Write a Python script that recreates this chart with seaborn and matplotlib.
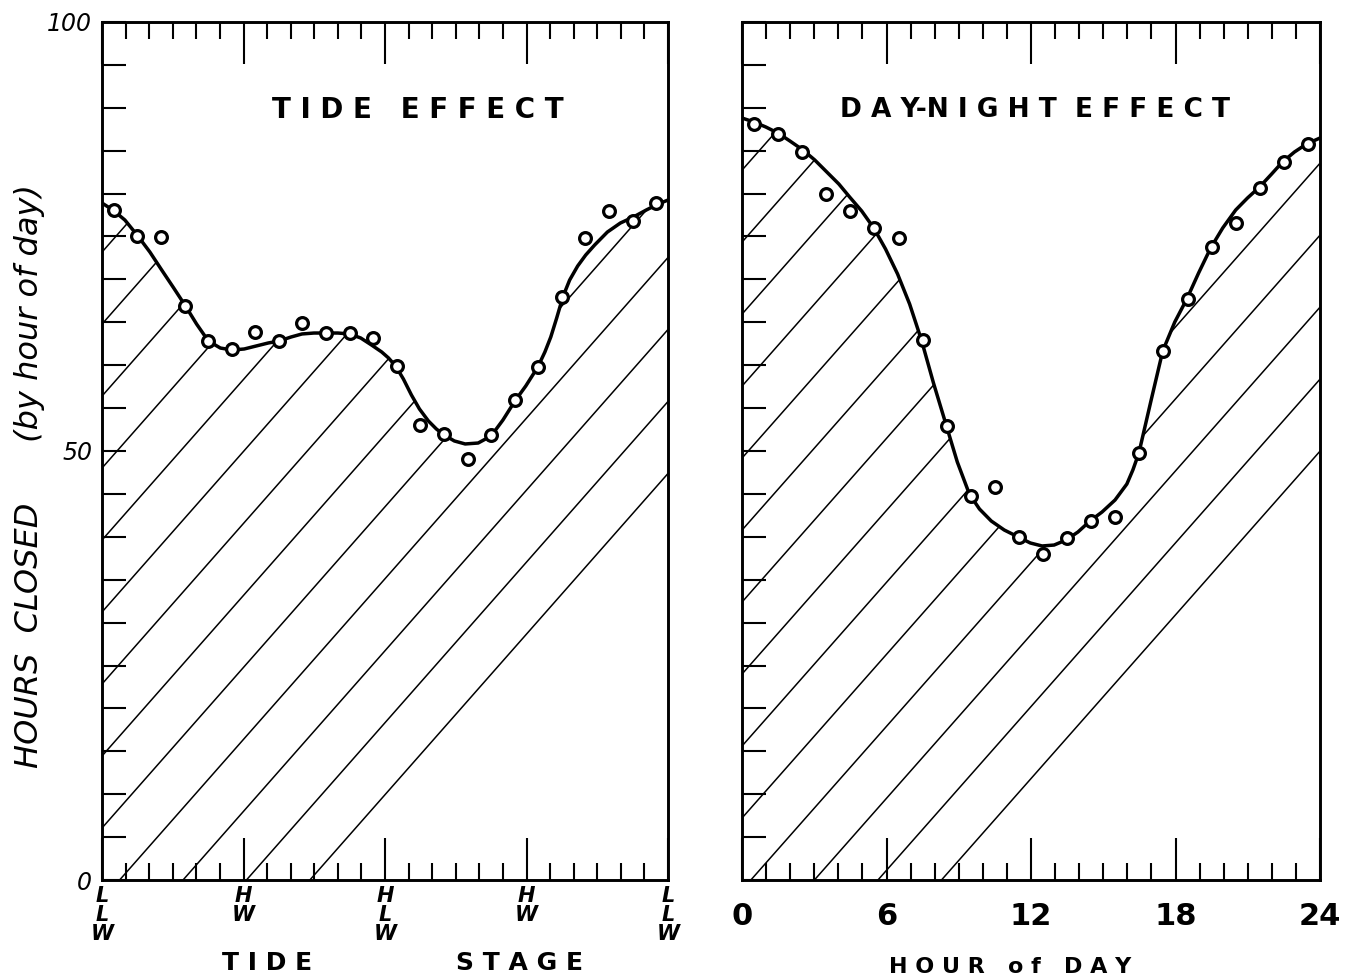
import numpy as np
import pandas as pd
import matplotlib
matplotlib.use("Agg")
import matplotlib.pyplot as plt
import seaborn as sns

# ---------------- data ----------------
# Tide effect: observed points (half steps of the tide stage, 0..24)
tide_stage = [0.5, 1.5, 2.5, 3.5, 4.5, 5.5, 6.5, 7.5, 8.5, 9.5, 10.5, 11.5,
              12.5, 13.5, 14.5, 15.5, 16.5, 17.5, 18.5, 19.5, 20.5, 21.5, 22.5, 23.5]
tide_closed = [78.1, 75.0, 74.9, 66.9, 62.8, 61.9, 63.9, 62.8, 64.9, 63.8, 63.8, 63.2,
               59.9, 53.0, 52.0, 49.1, 51.9, 55.9, 59.8, 67.9, 74.8, 78.0, 76.8, 78.9]
# Tide effect: fitted smooth curve
tide_curve_x = [0.00, 0.46, 0.97, 1.52, 2.03, 2.53, 3.04, 3.54, 4.01, 4.51, 5.02, 5.53,
                6.03, 6.54, 7.05, 7.51, 8.02, 8.48, 8.99, 9.49, 10.00, 10.51, 10.97,
                11.43, 11.86, 12.15, 12.45, 12.78, 13.12, 13.46, 13.84, 14.18, 14.51,
                14.94, 15.40, 15.95, 16.50, 17.00, 17.51, 17.97, 18.48, 18.78, 19.03,
                19.28, 19.54, 19.83, 20.17, 20.51, 20.89, 21.43, 21.98, 22.53, 23.08,
                23.59, 24.00]
tide_curve_y = [78.90, 78.09, 76.92, 75.06, 73.19, 71.10, 69.00, 66.90, 64.80, 62.82, 62.00, 61.77,
                61.89, 62.24, 62.59, 62.82, 63.29, 63.64, 63.75, 63.75, 63.75, 63.64, 63.17,
                62.35, 61.54, 60.84, 59.91, 58.39, 56.53, 54.90, 53.50, 52.56, 51.86,
                51.17, 50.82, 50.93, 51.75, 53.61, 55.83, 57.58, 59.79, 61.54, 63.29,
                65.50, 67.95, 69.93, 71.56, 72.84, 74.01, 75.52, 76.57, 77.27, 78.09,
                78.79, 79.25]
tide_tick_pos = [0, 6, 12, 18, 24]
tide_tick_labels = ["L\nL\nW", "H\nW", "H\nL\nW", "H\nW", "L\nL\nW"]

# Day-night effect: observed points (hour of day)
hour = [0.5, 1.5, 2.5, 3.5, 4.5, 5.5, 6.5, 7.5, 8.5, 9.5, 10.5, 11.5,
        12.5, 13.5, 14.5, 15.5, 16.5, 17.5, 18.5, 19.5, 20.5, 21.5, 22.5, 23.5]
hour_closed = [88.1, 86.9, 84.8, 80.0, 78.0, 76.0, 74.8, 62.9, 52.9, 44.8, 45.8, 40.0,
               38.0, 39.9, 41.8, 42.3, 49.8, 61.7, 67.7, 73.8, 76.6, 80.7, 83.7, 85.8]
hour_curve_x = [0.00, 0.50, 0.99, 1.49, 1.99, 2.53, 3.02, 3.52, 4.02, 4.47, 4.97, 5.47,
                5.96, 6.46, 6.96, 7.45, 7.95, 8.49, 8.94, 9.44, 9.86, 10.35, 10.89,
                11.47, 11.97, 12.46, 12.96, 13.46, 13.95, 14.45, 14.95, 15.49, 15.98,
                16.23, 16.48, 16.98, 17.47, 17.97, 18.47, 18.96, 19.46, 19.96, 20.50,
                20.99, 21.49, 21.99, 22.44, 22.94, 23.44, 24.00]
hour_curve_y = [88.81, 88.34, 87.76, 87.06, 86.13, 85.08, 83.92, 82.52, 81.12, 79.60, 77.97, 75.99,
                73.54, 70.63, 67.13, 62.94, 57.93, 52.91, 48.72, 44.99, 43.24, 41.84, 40.79,
                39.98, 39.28, 38.93, 39.04, 39.63, 40.56, 41.84, 42.89, 44.29, 46.15,
                47.79, 49.77, 55.83, 61.66, 65.03, 67.72, 70.75, 73.66, 75.99, 78.09,
                79.49, 80.77, 82.28, 83.68, 84.85, 85.78, 86.48]
hour_tick_pos = [0, 6, 12, 18, 24]
hour_tick_labels = ["0", "6", "12", "18", "24"]

y_ticks = list(range(0, 101, 5))
y_tick_labels = ["0" if v == 0 else "50" if v == 50 else "100" if v == 100 else "" for v in y_ticks]

# ---------------- style ----------------
sns.set_style("white")
plt.rcParams["font.family"] = ["DejaVu Sans"]
plt.rcParams.update({"text.color": "black", "axes.labelcolor": "black",
                     "xtick.color": "black", "ytick.color": "black",
                     "axes.edgecolor": "black"})

fig = plt.figure(figsize=(13.45, 9.8), dpi=100)
axL = fig.add_axes([102 / 1345, 100 / 980, 566 / 1345, 858 / 980])
axR = fig.add_axes([742 / 1345, 100 / 980, 578 / 1345, 858 / 980])


def hatch_under(ax, cx, cy, slope, spacing, y0):
    poly = ax.fill_between(cx, 0, cy, facecolor="none", edgecolor="none")
    path = poly.get_paths()[0]
    for k in range(-3, 20):
        b = y0 + k * spacing
        ln, = ax.plot([0, 24], [b, b + slope * 24], color="black", lw=1.1, zorder=2)
        ln.set_clip_path(path, ax.transData)


def style_axes(ax, xticks, xlabels, xlab_kw, show_ylabels):
    ax.set_xlim(0, 24)
    ax.set_ylim(0, 100)
    for s in ax.spines.values():
        s.set_visible(True)
        s.set_linewidth(2.1)
        s.set_color("black")
    ax.set_xticks(xticks)
    ax.set_xticks(range(0, 25), minor=True)
    ax.set_xticklabels(xlabels, **xlab_kw)
    ax.set_yticks(y_ticks)
    if show_ylabels:
        ax.set_yticklabels(y_tick_labels, fontsize=17, fontstyle="italic")
    else:
        ax.set_yticklabels([])
    ax.tick_params(axis="x", which="major", direction="in", length=30, width=1.5,
                   top=True, bottom=True, color="black")
    ax.tick_params(axis="x", which="minor", direction="in", length=12, width=1.5,
                   top=True, bottom=True, color="black")
    ax.tick_params(axis="y", which="major", direction="in", length=17, width=1.5,
                   left=True, right=False, pad=7, color="black")
    ax.set_xlabel("")
    ax.set_ylabel("")
    ax.grid(False)


# ---------- left: tide effect ----------
hatch_under(axL, tide_curve_x, tide_curve_y, slope=3.12, spacing=8.39, y0=-2.33)
sns.lineplot(x=tide_curve_x, y=tide_curve_y, ax=axL, color="black", lw=2.5,
             sort=False, estimator=None, zorder=3)
sns.scatterplot(x=tide_stage, y=tide_closed, ax=axL, marker="o", s=72,
                color="white", edgecolor="black", linewidth=2.3, zorder=4)
style_axes(axL, tide_tick_pos, tide_tick_labels,
           dict(fontsize=15, fontweight="bold", fontstyle="italic", linespacing=0.95),
           True)
axL.tick_params(axis="x", which="major", pad=4)
axL.text(0.558, 0.897, "T I D E   E F F E C T", transform=axL.transAxes,
         ha="center", va="center", fontsize=20, fontweight="bold")

# ---------- right: day-night effect ----------
hatch_under(axR, hour_curve_x, hour_curve_y, slope=3.18, spacing=8.39, y0=-1.17)
sns.lineplot(x=hour_curve_x, y=hour_curve_y, ax=axR, color="black", lw=2.5,
             sort=False, estimator=None, zorder=3)
sns.scatterplot(x=hour, y=hour_closed, ax=axR, marker="o", s=72,
                color="white", edgecolor="black", linewidth=2.3, zorder=4)
style_axes(axR, hour_tick_pos, hour_tick_labels, dict(fontsize=22, fontweight="bold"), False)
axR.tick_params(axis="x", which="major", pad=16)
axR.text(0.507, 0.897, "D A Y-N I G H T  E F F E C T", transform=axR.transAxes,
         ha="center", va="center", fontsize=19, fontweight="bold")

# ---------- axis titles ----------
fig.text(30 / 1345, 1 - 476 / 980, "HOURS  CLOSED      (by hour of day)",
         rotation=90, ha="center", va="center", fontsize=23, fontstyle="italic")
fig.text(267 / 1345, 1 - 963 / 980, "T I D E", ha="center", va="center",
         fontsize=18, fontweight="bold")
fig.text(520 / 1345, 1 - 963 / 980, "S T A G E", ha="center", va="center",
         fontsize=18, fontweight="bold")
fig.text(1010 / 1345, 1 - 967 / 980, "H O U R   o f   D A Y", ha="center",
         va="center", fontsize=16, fontweight="bold")

fig.savefig("out.png", dpi=100, facecolor="white")
